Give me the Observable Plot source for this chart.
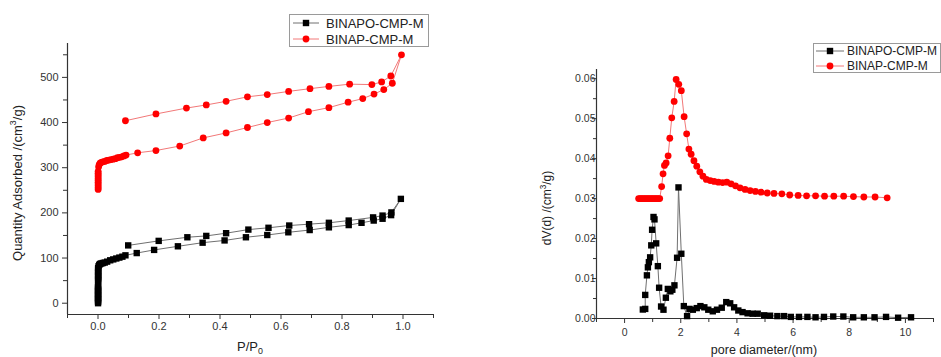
<!DOCTYPE html>
<html><head><meta charset="utf-8">
<script src="https://cdn.jsdelivr.net/npm/d3@7"></script>
<script src="https://cdn.jsdelivr.net/npm/@observablehq/plot@0.6"></script>
<style>
body{margin:0;background:#fff;font-family:"Liberation Sans",Arial,sans-serif;}
#root{position:relative;width:941px;height:357px;overflow:hidden;background:#fff;}
.panel{position:absolute;top:0;}
.title{position:absolute;white-space:nowrap;color:#222;transform:translate(-50%,-50%);line-height:1;}
.rot{transform:translate(-50%,-50%) rotate(-90deg);}
sup,sub{font-size:0.68em;line-height:0;}
.legend{position:absolute;border:1px solid #9a9a9a;background:#fff;box-sizing:border-box;}
.lrow{position:absolute;white-space:nowrap;color:#222;line-height:1;transform:translateY(-50%);}
.lsym{position:absolute;}
</style>
</head><body><div id="root"></div>
<script>
// ---- series ----
const seriesNames = ["BINAPO-CMP-M", "BINAP-CMP-M"];
const markerColors = ["#000000", "#ff0000"];
const lineColors = ["#707070", "#f27878"];
const symbols = ["square", "circle"];

// ---- left panel: N2 isotherm (P/P0 vs quantity adsorbed) ----
const binapoP = [0.0002,0.0002,0.0002,0.0002,0.0002,0.0002,0.0002,0.0002,0.0002,0.0002,0.0002,0.0002,0.0002,0.0002,
  0.0004,0.0004,0.0004,0.0004,0.0004,0.0004,0.0004,0.0004,0.0004,0.0004,0.0004,
  0.002,0.004,0.007,0.011,0.016,0.022,0.03,0.04,0.05,0.06,0.07,0.08,0.09,
  0.127,0.184,0.262,0.343,0.415,0.485,0.555,0.624,0.694,0.757,0.822,0.864,0.904,0.933,0.961,0.993,
  0.962,0.933,0.902,0.822,0.757,0.692,0.627,0.559,0.493,0.42,0.355,0.293,0.199,0.099];
const binapoQ = [0,3,6,9,12,15,18,21,24,27,30,33,36,39,
  48,51,54,57,60,63,66,69,72,75,78,
  82,85,87,88,89,90,92,95,97,99,101,103,106,
  111,118,126,134,139,146,151,157,162,168,173,178,183,187,195,231,
  201,194,190,183,178,175,172,167,163,155,149,146,138,128];
const binapP = [0.0005,0.0005,0.0005,0.0005,0.0005,0.0005,0.0005,0.0005,0.0005,0.0005,0.0005,
  0.002,0.004,0.007,0.011,0.016,0.022,0.029,0.036,0.043,0.05,0.057,0.064,0.071,0.078,0.085,0.092,
  0.13,0.19,0.268,0.345,0.42,0.49,0.555,0.625,0.69,0.757,0.82,0.868,0.905,0.937,0.965,0.995,
  0.96,0.93,0.898,0.825,0.757,0.695,0.625,0.555,0.49,0.42,0.355,0.29,0.19,0.09];
const binapQ = [252,256,260,264,268,272,276,280,284,288,292,
  302,307,310,312,313,314,316,317,318,319,320,322,323,324,326,328,
  333,338,348,366,377,389,400,410,424,433,445,453,463,473,487,550,
  503,490,484,485,480,475,469,462,457,447,439,432,419,404];
const isoXDomain = [-0.1, 1.1];
const isoYDomain = [-25, 575];
const isoXTicks = [0, 0.2, 0.4, 0.6, 0.8, 1.0];
const isoXMinor = [-0.1, 0.1, 0.3, 0.5, 0.7, 0.9, 1.1];
const isoYTicks = [0, 100, 200, 300, 400, 500];
const isoYMinor = [50, 150, 250, 350, 450, 550];

// ---- right panel: pore size distribution ----
const poreBinapoD = [0.65,0.735,0.735,0.795,0.83,0.865,0.91,0.95,0.98,1.03,1.065,1.125,1.185,1.23,1.30,1.385,1.47,1.54,1.63,1.70,1.775,1.87,1.92,2.02,2.11,2.225,2.31,2.43,2.57,2.70,2.84,2.98,3.14,3.29,3.46,3.62,3.76,3.90,4.05,4.20,4.38,4.56,4.74,4.97,5.18,5.44,5.68,5.92,6.21,6.51,6.8,7.1,7.43,7.79,8.14,8.52,8.9,9.31,9.74,10.2];
const poreBinapoV = [0.00225,0.0024,0.0059,0.0108,0.0128,0.0141,0.0153,0.0183,0.0222,0.0254,0.0248,0.0188,0.0131,0.0077,0.003,0.0022,0.0052,0.0074,0.0068,0.0072,0.0083,0.0152,0.0328,0.0162,0.0031,0.0006,0.0024,0.0022,0.0026,0.0031,0.0028,0.0022,0.0018,0.0022,0.0027,0.0041,0.0038,0.0028,0.002,0.0016,0.0013,0.0012,0.0012,0.0008,0.0007,0.0006,0.0006,0.0004,0.0004,0.0004,0.0003,0.0004,0.0005,0.0005,0.0003,0.0003,0.0003,0.0004,0.0002,0.0003];
const poreBinapD = [0.5,0.55,0.6,0.65,0.7,0.75,0.8,0.85,0.9,0.95,1.0,1.05,1.1,1.15,1.2,1.25,
  1.32,1.37,1.42,1.48,1.55,1.61,1.68,1.765,1.835,1.93,2.02,2.12,2.21,2.29,2.37,2.47,2.57,2.68,2.79,2.91,3.05,3.19,3.34,3.49,3.64,3.79,3.95,4.11,4.29,4.47,4.66,4.86,5.08,5.32,5.6,5.88,6.18,6.48,6.8,7.12,7.45,7.8,8.15,8.52,8.92,9.35];
const poreBinapV = [0.03,0.03,0.03,0.03,0.03,0.03,0.03,0.03,0.03,0.03,0.03,0.03,0.03,0.03,0.03,0.03,
  0.0330,0.0362,0.0383,0.0389,0.0407,0.0451,0.0502,0.0543,0.0598,0.0586,0.0570,0.0505,0.0462,0.0424,0.0411,0.0395,0.0381,0.0367,0.0356,0.0348,0.0345,0.0343,0.0341,0.0340,0.0341,0.0337,0.0332,0.0327,0.0323,0.0320,0.0318,0.0316,0.0314,0.0313,0.0312,0.0309,0.0308,0.0307,0.0307,0.0306,0.0306,0.0306,0.0305,0.0304,0.0304,0.0302];
const poreXDomain = [-1, 11];
const poreYDomain = [0, 0.0623];
const poreXTicks = [0, 2, 4, 6, 8, 10];
const poreXMinor = [-1, 1, 3, 5, 7, 9, 11];
const poreYTicks = [0, 0.01, 0.02, 0.03, 0.04, 0.05, 0.06];
const poreYMinor = [0.005, 0.015, 0.025, 0.035, 0.045, 0.055];

const toRows = (xs, ys) => xs.map((x, i) => ({x, y: ys[i]}));
const isoSeries = [toRows(binapoP, binapoQ), toRows(binapP, binapQ)];
const poreSeries = [toRows(poreBinapoD, poreBinapoV), toRows(poreBinapD, poreBinapV)];

function seriesMarks(series) {
  const marks = [];
  series.forEach((rows, i) => {
    marks.push(Plot.line(rows, {x: "x", y: "y", stroke: lineColors[i], strokeWidth: 1}));
  });
  series.forEach((rows, i) => {
    marks.push(Plot.dot(rows, {x: "x", y: "y", symbol: symbols[i], r: i === 0 ? 3.6 : 3.4, fill: markerColors[i], stroke: "none"}));
  });
  return marks;
}

const root = document.getElementById("root");

const left = Plot.plot({
  width: 470, height: 357,
  marginLeft: 67, marginRight: 37, marginTop: 43, marginBottom: 43,
  x: {domain: isoXDomain},
  y: {domain: isoYDomain},
  style: "font-family:'Liberation Sans',Arial,sans-serif;font-size:11px;color:#333;background:none;overflow:visible;",
  marks: [
    Plot.ruleY([isoYDomain[0]], {stroke: "#333", strokeWidth: 1.2}),
    Plot.ruleX([isoXDomain[0]], {stroke: "#333", strokeWidth: 1.2}),
    Plot.axisX({ticks: isoXTicks, tickSize: 5, tickPadding: 3, tickFormat: d3.format(".1f"), label: null, stroke: "#333"}),
    Plot.axisX({ticks: isoXMinor, tickSize: 4, tickFormat: () => "", label: null, stroke: "#333"}),
    Plot.axisY({ticks: isoYTicks, tickSize: 5, tickPadding: 4, tickFormat: d3.format("d"), label: null, stroke: "#333"}),
    Plot.axisY({ticks: isoYMinor, tickSize: 4, tickFormat: () => "", label: null, stroke: "#333"}),
    ...seriesMarks(isoSeries)
  ]
});
left.classList.add("panel");
left.style.left = "0px";
root.appendChild(left);

const right = Plot.plot({
  width: 471, height: 357,
  marginLeft: 126, marginRight: 8, marginTop: 69, marginBottom: 39,
  x: {domain: poreXDomain},
  y: {domain: poreYDomain},
  style: "font-family:'Liberation Sans',Arial,sans-serif;font-size:10.5px;color:#333;background:none;overflow:visible;",
  marks: [
    Plot.ruleY([poreYDomain[0]], {stroke: "#333", strokeWidth: 1.2}),
    Plot.ruleX([poreXDomain[0]], {stroke: "#333", strokeWidth: 1.2}),
    Plot.axisX({ticks: poreXTicks, tickSize: 5, tickPadding: 5, tickFormat: d3.format("d"), label: null, stroke: "#333"}),
    Plot.axisX({ticks: poreXMinor, tickSize: 4, tickFormat: () => "", label: null, stroke: "#333"}),
    Plot.axisY({ticks: poreYTicks, tickSize: 4, tickPadding: -3, tickFormat: d3.format(".2f"), label: null, stroke: "#333"}),
    Plot.axisY({ticks: poreYMinor, tickSize: 3, tickFormat: () => "", label: null, stroke: "#333"}),
    ...seriesMarks(poreSeries)
  ]
});
right.classList.add("panel");
right.style.left = "470px";
root.appendChild(right);

// ---- axis titles ----
function addTitle(html, x, y, size, rot) {
  const d = document.createElement("div");
  d.className = "title" + (rot ? " rot" : "");
  d.style.left = x + "px"; d.style.top = y + "px"; d.style.fontSize = size + "px";
  d.innerHTML = html;
  root.appendChild(d);
}
addTitle("Quantity Adsorbed /(cm<sup>3</sup>/g)", 17, 183, 13, true);
addTitle("P/P<sub>0</sub>", 250, 346, 13, false);
addTitle("dV(d) /(cm<sup>3</sup>/g)", 547, 208, 12, true);
addTitle("pore diameter/(nm)", 764, 350, 12.5, false);

// ---- legends ----
function addLegend(box, rowsY, lineX0, lineX1, textX, size) {
  const lg = document.createElement("div");
  lg.className = "legend";
  lg.style.left = box[0] + "px"; lg.style.top = box[1] + "px";
  lg.style.width = box[2] + "px"; lg.style.height = box[3] + "px";
  root.appendChild(lg);
  seriesNames.forEach((name, i) => {
    const y = rowsY[i];
    const svgNS = "http://www.w3.org/2000/svg";
    const s = document.createElementNS(svgNS, "svg");
    s.setAttribute("class", "lsym");
    s.setAttribute("width", lineX1 - lineX0 + 2);
    s.setAttribute("height", 10);
    s.style.position = "absolute";
    s.style.left = (lineX0 - 1) + "px";
    s.style.top = (y - 5) + "px";
    const w = lineX1 - lineX0;
    const ln = document.createElementNS(svgNS, "line");
    ln.setAttribute("x1", 1); ln.setAttribute("x2", w + 1);
    ln.setAttribute("y1", 5); ln.setAttribute("y2", 5);
    ln.setAttribute("stroke", lineColors[i]); ln.setAttribute("stroke-width", 1);
    s.appendChild(ln);
    const cx = 1 + w / 2;
    if (symbols[i] === "square") {
      const r = document.createElementNS(svgNS, "rect");
      r.setAttribute("x", cx - 3.2); r.setAttribute("y", 1.8);
      r.setAttribute("width", 6.4); r.setAttribute("height", 6.4);
      r.setAttribute("fill", markerColors[i]);
      s.appendChild(r);
    } else {
      const c = document.createElementNS(svgNS, "circle");
      c.setAttribute("cx", cx); c.setAttribute("cy", 5); c.setAttribute("r", 3.4);
      c.setAttribute("fill", markerColors[i]);
      s.appendChild(c);
    }
    root.appendChild(s);
    const t = document.createElement("div");
    t.className = "lrow";
    t.style.left = textX + "px"; t.style.top = y + "px"; t.style.fontSize = size + "px";
    t.textContent = name;
    root.appendChild(t);
  });
}
addLegend([289, 14, 140, 33], [22.5, 39], 293, 319, 326, 13);
addLegend([813, 43, 128, 30], [50.5, 65.5], 816, 844, 847, 12);
</script>
</body></html>
